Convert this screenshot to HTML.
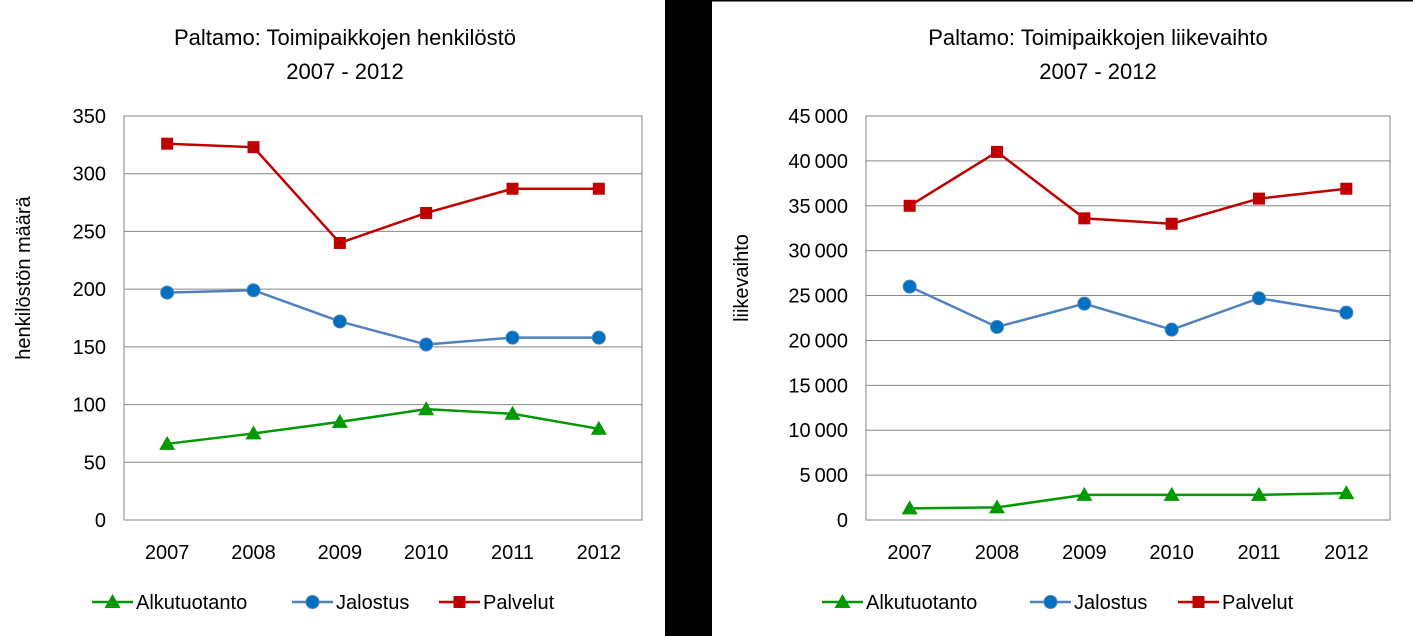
<!DOCTYPE html>
<html><head><meta charset="utf-8"><style>
html,body{margin:0;padding:0;background:#fff;}
svg{display:block;font-family:"Liberation Sans",sans-serif;}
</style></head><body>
<svg id="c" width="1413" height="636" viewBox="0 0 1413 636" xmlns="http://www.w3.org/2000/svg">
<rect x="0" y="0" width="1413" height="636" fill="#fff"/>
<rect x="665" y="0" width="47" height="636" fill="#000"/>
<rect x="712" y="0" width="701" height="1.5" fill="#000"/>
</svg>
<script>
const years = ["2007","2008","2009","2010","2011","2012"];
const staffAlku = [66, 75, 85, 96, 92, 79];
const staffJalo = [197, 199, 172, 152, 158, 158];
const staffPalv = [326, 323, 240, 266, 287, 287];
const staffTicks = [0, 50, 100, 150, 200, 250, 300, 350];
const turnAlku = [1300, 1400, 2800, 2800, 2800, 3000];
const turnJalo = [26000, 21500, 24100, 21200, 24700, 23100];
const turnPalv = [35000, 41000, 33600, 33000, 35800, 36900];
const turnTicks = [0, 5000, 10000, 15000, 20000, 25000, 30000, 35000, 40000, 45000];
const seriesNames = ["Alkutuotanto", "Jalostus", "Palvelut"];

const NS = "http://www.w3.org/2000/svg";
const svg = document.getElementById("c");
function mk(tag, attrs, parent) {
  const e = document.createElementNS(NS, tag);
  for (const k in attrs) e.setAttribute(k, attrs[k]);
  (parent || svg).appendChild(e);
  return e;
}
const colors = ["#009900", "#4F81BD", "#C00000"];
const mcolors = ["#009900", "#0070C0", "#C00000"];
function marker(type, x, y, g) {
  let m;
  if (type === 0) m = mk("polygon", {points: `${x},${y-8} ${x-8},${y+6} ${x+8},${y+6}`, fill: mcolors[0]}, g);
  else if (type === 1) m = mk("circle", {cx: x, cy: y, r: 6.5, fill: mcolors[1], stroke: "#4F81BD", "stroke-width": 1}, g);
  else m = mk("rect", {x: x-6, y: y-6, width: 12, height: 12, fill: mcolors[2]}, g);
  return m;
}
function fmt(v, sep) {
  return sep ? String(v).replace(/\B(?=(\d{3})+(?!\d))/g, "\u2009") : String(v);
}
function chart(o) {
  const g = mk("g", {});
  
  
  const t1 = mk("text", {x: o.cx, y: 45, "text-anchor": "middle", "font-size": 22}, g);
  t1.textContent = o.title;
  
  
  const t2 = mk("text", {x: o.cx, y: 79, "text-anchor": "middle", "font-size": 22}, g);
  t2.textContent = "2007 - 2012";
  
  
  const top = 116, bot = 520;
  const max = o.ticks[o.ticks.length - 1];
  const ys = v => bot - (v / max) * (bot - top);
  const w = (o.x1 - o.x0) / years.length;
  const xs = i => o.x0 + w * (i + 0.5);
  o.ticks.forEach(t => {
    const l = mk("line", {x1: o.x0, x2: o.x1, y1: ys(t), y2: ys(t), stroke: "#868686", "stroke-width": 1}, g);
    
    
    const tx = mk("text", {x: o.x0 - 18, y: ys(t) + 7, "text-anchor": "end", "font-size": 20}, g);
    tx.textContent = fmt(t, o.sep);
    
    
  });
  const fr = mk("rect", {x: o.x0, y: top, width: o.x1 - o.x0, height: bot - top, fill: "none", stroke: "#868686", "stroke-width": 1}, g);
  
  
  years.forEach((y, i) => {
    const tx = mk("text", {x: xs(i), y: 559, "text-anchor": "middle", "font-size": 20}, g);
    tx.textContent = y;
    
    
  });
  const yt = mk("text", {x: 0, y: 0, "text-anchor": "middle", "font-size": 20, transform: `translate(${o.ytx},${(top+bot)/2 - 40}) rotate(-90)`}, g);
  yt.textContent = o.ytitle;
  
  
  o.series.forEach((s, k) => {
    const pl = mk("polyline", {points: s.map((v, i) => xs(i) + "," + ys(v)).join(" "), fill: "none", stroke: colors[k], "stroke-width": 2.5}, g);
    
    
    s.forEach((v, i) => {
      const m = marker(k, xs(i), ys(v), g);
      
      
    });
  });
  o.legend.forEach((lx, k) => {
    const ly = 602;
    const lg = mk("g", {}, g);
    
    
    mk("line", {x1: lx, x2: lx + 41, y1: ly, y2: ly, stroke: colors[k], "stroke-width": 2.5}, lg);
    marker(k, lx + 20.5, ly, lg);
    const tx = mk("text", {x: lx + 44, y: ly + 7, "font-size": 20}, lg);
    tx.textContent = seriesNames[k];
  });
}
chart({name: "staff-chart", cx: 345, title: "Paltamo: Toimipaikkojen henkilöstö", x0: 124, x1: 642,
  ticks: staffTicks, series: [staffAlku, staffJalo, staffPalv], ytitle: "henkilöstön määrä", ytx: 30, sep: false,
  legend: [92, 292, 439]});
chart({name: "turnover-chart", cx: 1098, title: "Paltamo: Toimipaikkojen liikevaihto", x0: 866, x1: 1390,
  ticks: turnTicks, series: [turnAlku, turnJalo, turnPalv], ytitle: "liikevaihto", ytx: 748, sep: true,
  legend: [822, 1030, 1178]});
</script>
</body></html>
